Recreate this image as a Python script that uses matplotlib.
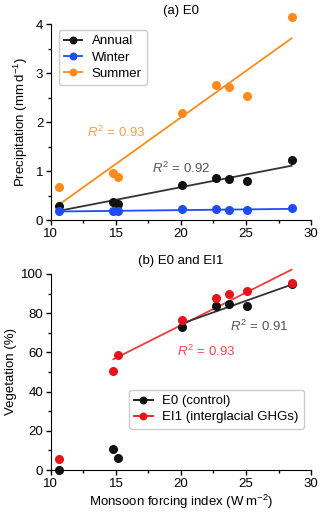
import numpy as np
import matplotlib
matplotlib.use("Agg")
import matplotlib.pyplot as plt

plt.rcParams['font.family'] = ['Liberation Sans', 'DejaVu Sans']
plt.rcParams['mathtext.fontset'] = 'custom'
plt.rcParams['mathtext.rm'] = 'Liberation Sans'
plt.rcParams['mathtext.it'] = 'Liberation Sans:italic'
plt.rcParams['font.size'] = 9.5

# forcing index (W m-2)
forcing = [10.6, 14.8, 15.15, 20.05, 22.7, 23.7, 25.05, 28.5]

# (a) precipitation, mm/day
annual = [0.29, 0.37, 0.33, 0.71, 0.85, 0.84, 0.79, 1.23]
winter = [0.18, 0.19, 0.18, 0.22, 0.22, 0.21, 0.20, 0.24]
summer = [0.67, 0.97, 0.88, 2.19, 2.76, 2.72, 2.54, 4.14]

# (b) vegetation, %
veg_e0 = [0.0, 10.5, 6.3, 73.0, 83.8, 84.7, 83.5, 94.7]
veg_ei1 = [5.6, 50.3, 58.8, 76.7, 87.6, 89.6, 91.3, 95.6]

c_black = '#111111'
c_blue = '#1f4cf5'
c_orange = '#ff8a1c'
c_red = '#e8141c'

fig = plt.figure(figsize=(3.2, 5.12), dpi=100)
ax1 = fig.add_axes([0.159, 0.570, 0.813, 0.383])
ax2 = fig.add_axes([0.159, 0.082, 0.813, 0.383])

x = np.array(forcing)


def fit_line(ax, xs, ys, color):
    xs = np.asarray(xs)
    ys = np.asarray(ys)
    p = np.polyfit(xs, ys, 1)
    xx = np.array([xs.min(), xs.max()])
    ax.plot(xx, np.polyval(p, xx), color=color, lw=1.3, zorder=2, clip_on=False)


def style(ax):
    ax.spines['top'].set_visible(False)
    ax.spines['right'].set_visible(False)
    ax.set_xlim(10, 30)
    ax.set_xticks([10, 15, 20, 25, 30])
    ax.set_xticks(np.arange(12.5, 30, 5), minor=True)
    ax.tick_params(direction='out', length=3.5, width=1, pad=2, labelsize=9.5)
    ax.tick_params(which='minor', direction='out', length=2, width=1)


leg_kw = dict(loc='upper left', fontsize=9.5, handlelength=1.4, handletextpad=0.7,
              labelspacing=0.3, borderpad=0.4, borderaxespad=0, markerscale=0.85,
              edgecolor='#cccccc', framealpha=1)

# panel (a)
fit_line(ax1, x, summer, c_orange)
fit_line(ax1, x, annual, '#333333')
fit_line(ax1, x, winter, c_blue)
for ys, c, lab in [(annual, c_black, 'Annual'), (winter, c_blue, 'Winter'),
                   (summer, c_orange, 'Summer')]:
    ax1.plot(x, ys, 'o', color=c, ms=5.5, clip_on=False, zorder=3)
    ax1.plot([], [], '-o', color=c, ms=5.5, lw=1.3, label=lab)
style(ax1)
ax1.set_ylim(0, 4)
ax1.set_yticks([0, 1, 2, 3, 4])
ax1.set_yticks(np.arange(0.5, 4, 1), minor=True)
ax1.set_ylabel('Precipitation (mm\u2009d$^{-1}$)', labelpad=4)
ax1.set_title('(a) E0', fontsize=9.5, pad=7)
ax1.text(12.8, 1.8, '$R^2$ = 0.93', color='#f5a04c', fontsize=9.5, va='center')
ax1.text(17.8, 1.05, '$R^2$ = 0.92', color='#555555', fontsize=9.5, va='center')
ax1.legend(bbox_to_anchor=(0.03, 0.97), **leg_kw)

# panel (b)
fit_line(ax2, x[1:], np.array(veg_ei1)[1:], '#ee3b3e')
fit_line(ax2, x[3:], np.array(veg_e0)[3:], '#333333')
ax2.plot(x, veg_e0, 'o', color=c_black, ms=5.5, clip_on=False, zorder=3)
ax2.plot(x, veg_ei1, 'o', color=c_red, ms=5.5, clip_on=False, zorder=3)
ax2.plot([], [], '-o', color=c_black, ms=5.5, lw=1.3, label='E0 (control)')
ax2.plot([], [], '-o', color=c_red, ms=5.5, lw=1.3, label='EI1 (interglacial GHGs)')
style(ax2)
ax2.set_ylim(0, 100)
ax2.set_yticks([0, 20, 40, 60, 80, 100])
ax2.set_yticks(np.arange(10, 100, 20), minor=True)
ax2.set_ylabel('Vegetation (%)', labelpad=3)
ax2.set_xlabel('Monsoon forcing index (W\u2009m$^{-2}$)', labelpad=2)
ax2.set_title('(b) E0 and EI1', fontsize=9.5, pad=7)
ax2.text(23.8, 73, '$R^2$ = 0.91', color='#555555', fontsize=9.5, va='center')
ax2.text(19.7, 60.7, '$R^2$ = 0.93', color='#ee4a4e', fontsize=9.5, va='center')
ax2.legend(bbox_to_anchor=(0.30, 0.41), **leg_kw)

fig.savefig('out.png', dpi=100)
